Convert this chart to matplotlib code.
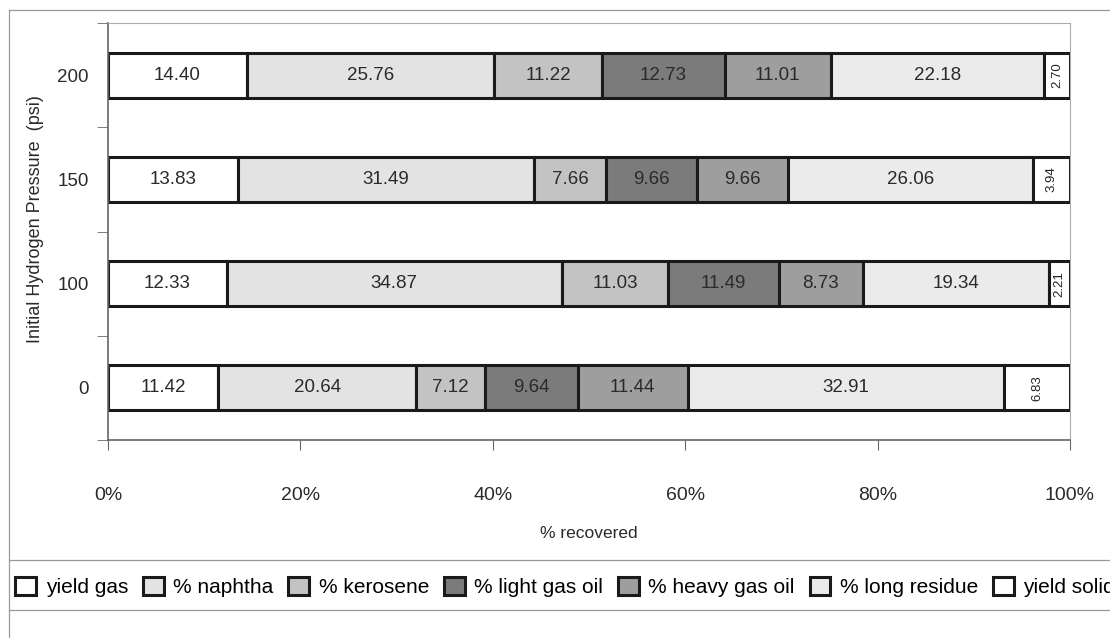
import numpy as np
import matplotlib.pyplot as plt
from matplotlib.lines import Line2D
from matplotlib.patches import Patch

plt.rcParams['font.family'] = ['Liberation Sans', 'DejaVu Sans']

# Data (bottom to top)
pressures = ['0', '100', '150', '200']
series = ['yield gas', '% naphtha', '% kerosene', '% light gas oil',
          '% heavy gas oil', '% long residue', 'yield solid']
yield_gas = [11.42, 12.33, 13.83, 14.40]
naphtha = [20.64, 34.87, 31.49, 25.76]
kerosene = [7.12, 11.03, 7.66, 11.22]
light_gas_oil = [9.64, 11.49, 9.66, 12.73]
heavy_gas_oil = [11.44, 8.73, 9.66, 11.01]
long_residue = [32.91, 19.34, 26.06, 22.18]
yield_solid = [6.83, 2.21, 3.94, 2.70]

colors = ['#ffffff', '#e3e3e3', '#c3c3c3', '#7b7b7b', '#9e9e9e', '#ebebeb', '#ffffff']

data = np.array([yield_gas, naphtha, kerosene, light_gas_oil,
                 heavy_gas_oil, long_residue, yield_solid])
totals = data.sum(axis=0)
pct = data / totals * 100

fig = plt.figure(figsize=(11.1, 6.38), dpi=100)
ax = fig.add_axes([108 / 1110, 1 - 440 / 638, 962 / 1110, 417 / 638])

y = np.arange(len(pressures))
left = np.zeros(len(pressures))
for i, name in enumerate(series):
    ax.barh(y, pct[i], left=left, height=0.43, color=colors[i],
            edgecolor='#1a1a1a', linewidth=2.2, label=name)
    for j in range(len(pressures)):
        cx = left[j] + pct[i][j] / 2
        txt = '%.2f' % data[i][j]
        if i == len(series) - 1:
            ax.text(cx, y[j], txt, rotation=90, ha='center', va='center',
                    fontsize=9.5, color='#222222')
        else:
            ax.text(cx, y[j], txt, ha='center', va='center',
                    fontsize=13.5, color='#2a2a2a')
    left += pct[i]

ax.set_xlim(0, 100)
ax.set_ylim(-0.5, 3.5)
ax.set_xticks([0, 20, 40, 60, 80, 100])
ax.set_xticklabels(['0%', '20%', '40%', '60%', '80%', '100%'], fontsize=14)
ax.tick_params(axis='x', length=7, pad=27, color='#666666', labelcolor='#2a2a2a')
ax.set_yticks(y)
ax.set_yticklabels(pressures, fontsize=13.5, color='#2a2a2a')
ax.tick_params(axis='y', length=0, pad=14)
ax.set_yticks([-0.5, 0.5, 1.5, 2.5, 3.5], minor=True)
ax.tick_params(axis='y', which='minor', length=8, color='#666666')

for s in ['left', 'bottom']:
    ax.spines[s].set_color('#666666')
    ax.spines[s].set_linewidth(1.2)
for s in ['top', 'right']:
    ax.spines[s].set_color('#aaaaaa')
    ax.spines[s].set_linewidth(0.8)

ax.set_xlabel('% recovered', fontsize=12.5, color='#2a2a2a', labelpad=16)
ax.set_ylabel('Initial Hydrogen Pressure  (psi)', fontsize=13,
              color='#2a2a2a')
ax.yaxis.set_label_coords(-0.067, 0.53)

# outer chart frame and legend separators
for (xs, ys) in [([9, 1110], [10, 10]), ([9, 9], [10, 638]),
                 ([9, 1110], [560, 560]), ([9, 1110], [610, 610])]:
    fig.add_artist(Line2D([x / 1110 for x in xs], [1 - v / 638 for v in ys],
                          color='#999999', linewidth=0.9))

handles = [Patch(facecolor=c, edgecolor='#1a1a1a', linewidth=2.2) for c in colors]
fig.legend(handles, series, loc='center left',
           bbox_to_anchor=(7 / 1110, 1 - 587 / 638), ncol=7, frameon=False,
           fontsize=15, handlelength=1.0, handleheight=1.0,
           handletextpad=0.45, columnspacing=0.72, borderaxespad=0)

fig.savefig('out.png', dpi=100)
